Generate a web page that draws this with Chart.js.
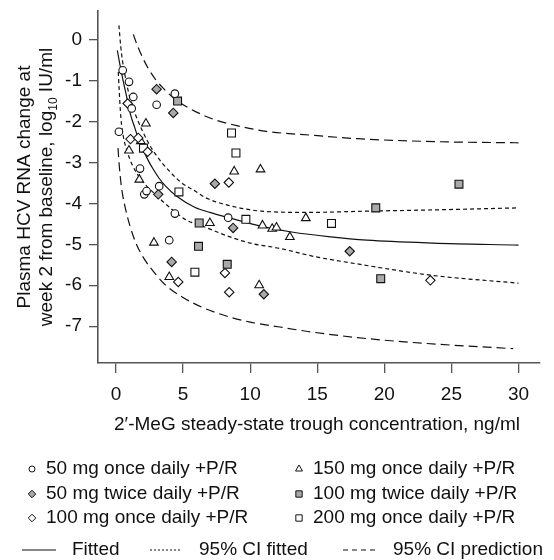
<!DOCTYPE html>
<html>
<head>
<meta charset="utf-8">
<script src="https://cdn.jsdelivr.net/npm/chart.js@4/dist/chart.umd.min.js"></script>
<style>
  html, body { margin: 0; padding: 0; background: #fff; }
</style>
</head>
<body>
<canvas id="chart" width="554" height="560"></canvas>
<script>
// trough concentration (ng/ml), HCV RNA change (log10 IU/ml)
const qd50 = [[0.5,-0.75],[0.97,-1.03],[1.29,-1.4],[1.17,-1.68],[0.22,-2.25],[3.03,-1.59],[4.39,-1.32],
  [1.79,-3.15],[3.22,-3.58],[2.11,-3.78],[2.28,-3.7],[4.39,-4.25],[3.97,-4.9],[8.36,-4.35]];
const bid50 = [[3.03,-1.21],[4.27,-1.79],[7.37,-3.52],[3.15,-3.78],[8.73,-4.6],[4.15,-5.43],[11.02,-6.22],[17.42,-5.17]];
const qd100 = [[0.87,-1.56],[1.08,-2.43],[1.66,-2.4],[2.36,-2.74],[8.41,-3.49],[4.64,-5.92],[8.12,-5.7],[8.44,-6.17],[23.43,-5.88]];
const qd150 = [[2.23,-2.05],[0.97,-2.71],[1.85,-2.48],[1.74,-3.42],[8.81,-3.22],[10.77,-3.17],[7.0,-4.48],[2.83,-4.96],
  [3.97,-5.8],[10.67,-6.0],[10.92,-4.54],[11.64,-4.62],[11.96,-4.59],[14.15,-4.36],[12.96,-4.82]];
const bid100 = [[4.59,-1.5],[6.2,-4.48],[6.15,-5.05],[8.29,-5.49],[19.36,-4.11],[19.73,-5.84],[25.56,-3.53]];
const qd200 = [[8.61,-2.28],[8.94,-2.77],[4.69,-3.72],[9.68,-4.39],[5.88,-5.68],[16.06,-4.49],[2.05,-2.65]];

// curves
const fitted = [[0.1,-0.26],[0.3,-0.62],[0.5,-0.95],[0.7,-1.25],[0.9,-1.55],[1.1,-1.85],[1.4,-2.15],[1.7,-2.45],
  [2.0,-2.68],[2.4,-2.95],[2.8,-3.18],[3.2,-3.38],[3.7,-3.58],[4.5,-3.82],[5.9,-4.1],[7,-4.22],[8.4,-4.35],
  [10.85,-4.56],[13.1,-4.7],[16,-4.82],[18.7,-4.9],[23.6,-4.97],[30,-5.02]];
const ciUpper = [[0.22,0.35],[0.35,-0.15],[0.5,-0.55],[0.75,-1.0],[1.0,-1.38],[1.3,-1.7],[1.66,-2.0],[2.3,-2.45],
  [2.9,-2.78],[4,-3.22],[4.9,-3.5],[5.9,-3.7],[6.6,-3.85],[8.4,-4.05],[10.85,-4.19],[14.3,-4.22],[18.7,-4.19],
  [23.6,-4.16],[30,-4.11]];
const ciLower = [[0.17,-0.79],[0.25,-1.3],[0.33,-1.75],[0.42,-2.09],[0.6,-2.45],[0.85,-2.75],[1.2,-3.05],[1.9,-3.43],
  [3.0,-3.8],[4.0,-4.1],[5.26,-4.41],[6.4,-4.55],[8.5,-4.82],[10,-4.97],[12.2,-5.1],[14.8,-5.3],[18,-5.48],
  [23.6,-5.76],[30,-5.95]];
const predUpper = [[1.29,0.13],[1.6,-0.15],[2.0,-0.45],[2.4,-0.7],[2.9,-0.95],[3.5,-1.18],[4.2,-1.4],[5.26,-1.64],
  [6.4,-1.83],[7.4,-1.96],[9,-2.1],[11.2,-2.24],[14.8,-2.34],[18,-2.42],[20.65,-2.46],[25,-2.5],[30,-2.52]];
const predLower = [[0.15,-2.65],[0.25,-3.1],[0.35,-3.44],[0.5,-3.8],[0.7,-4.12],[1.04,-4.55],[1.5,-4.98],[2.0,-5.3],
  [3.0,-5.75],[3.77,-6.02],[5.0,-6.3],[6.5,-6.55],[8.5,-6.78],[10,-6.9],[12.2,-7.02],[14.3,-7.13],[18,-7.28],
  [23,-7.42],[29.6,-7.55]];

const xTicks = [0, 5, 10, 15, 20, 25, 30];
const yTicks = [0, -1, -2, -3, -4, -5, -6, -7];

const groupLabels = ['50 mg once daily +P/R', '50 mg twice daily +P/R', '100 mg once daily +P/R',
  '150 mg once daily +P/R', '100 mg twice daily +P/R', '200 mg once daily +P/R'];
const lineLabels = ['Fitted', '95% CI fitted', '95% CI prediction'];
const xTitle = '2\u2032-MeG steady-state trough concentration, ng/ml';

const ink = '#111';
const axisColor = '#555';
const grey = '#a9a9a9';
const fontFamily = '"Liberation Sans", Arial, Helvetica, sans-serif';
const fontSize = 19;

const toXY = a => a.map(p => ({ x: p[0], y: p[1] }));

// marker look for each dose group, in the same order as groupLabels
const markers = [
  { data: qd50, style: 'circle', r: 3.8, fill: '#fff' },
  { data: bid50, style: 'rectRot', r: 4.7, fill: grey },
  { data: qd100, style: 'rectRot', r: 4.7, fill: '#fff' },
  { data: qd150, style: 'triangle', r: 5, fill: '#fff' },
  { data: bid100, style: 'rect', r: 5.6, fill: grey },
  { data: qd200, style: 'rect', r: 5.6, fill: '#fff' }
];

const pointSets = markers.map((m, i) => ({
  label: groupLabels[i],
  data: toXY(m.data),
  pointStyle: m.style,
  pointRadius: m.r,
  backgroundColor: m.fill,
  borderColor: ink,
  borderWidth: 1.1,
  order: 0
}));

const dashFit = [4, 3];
const dashPred = [9, 5];
function curve(label, data, dash) {
  return {
    label: label,
    data: toXY(data),
    showLine: true,
    pointRadius: 0,
    borderColor: ink,
    borderWidth: 1.2,
    borderDash: dash,
    cubicInterpolationMode: 'monotone',
    fill: false,
    order: 1
  };
}
const lineSets = [
  curve('Fitted', fitted, []),
  curve('CI fitted upper', ciUpper, dashFit),
  curve('CI fitted lower', ciLower, dashFit),
  curve('Prediction upper', predUpper, dashPred),
  curve('Prediction lower', predLower, dashPred)
];

// no extra room for the end labels: the plot box is placed by hand
function noPad(s) {
  s.paddingTop = 0;
  s.paddingBottom = 0;
  s.paddingLeft = 0;
  s.paddingRight = 0;
}

// titles and the legend are drawn by hand
const annotate = {
  id: 'annotate',
  afterDraw(chart) {
    const ctx = chart.ctx;
    const font = fontSize + 'px ' + fontFamily;
    ctx.save();
    ctx.fillStyle = ink;
    ctx.font = font;

    // x title
    ctx.textAlign = 'center';
    ctx.textBaseline = 'middle';
    ctx.fillText(xTitle, 317, 425);

    // y title, two lines with a subscript
    const cy = (chart.chartArea.top + chart.chartArea.bottom) / 2;
    ctx.save();
    ctx.translate(30, cy);
    ctx.rotate(-Math.PI / 2);
    ctx.textBaseline = 'alphabetic';
    ctx.textAlign = 'center';
    ctx.fillText('Plasma HCV RNA change at', 0, 0);
    ctx.restore();

    ctx.save();
    ctx.translate(52, cy);
    ctx.rotate(-Math.PI / 2);
    ctx.textBaseline = 'alphabetic';
    ctx.textAlign = 'left';
    const a = 'week 2 from baseline, log', s = '10', b = ' IU/ml';
    const subFont = '12px ' + fontFamily;
    const wa = ctx.measureText(a).width;
    const wb = ctx.measureText(b).width;
    ctx.font = subFont;
    const ws = ctx.measureText(s).width;
    let x0 = -(wa + ws + wb) / 2;
    ctx.font = font;
    ctx.fillText(a, x0, 0);
    ctx.font = subFont;
    ctx.fillText(s, x0 + wa, 5);
    ctx.font = font;
    ctx.fillText(b, x0 + wa + ws, 0);
    ctx.restore();

    // legend: dose groups in two columns
    const colSym = [32, 299];
    const colText = [46, 313];
    const rowY = [469, 494, 518];
    ctx.textAlign = 'left';
    ctx.textBaseline = 'middle';
    markers.forEach((m, i) => {
      const col = i < 3 ? 0 : 1;
      const row = i % 3;
      ctx.fillStyle = m.fill;
      ctx.strokeStyle = ink;
      ctx.lineWidth = 1;
      Chart.helpers.drawPoint(ctx, { pointStyle: m.style, radius: m.r * 0.8, rotation: 0, borderWidth: 1 }, colSym[col], rowY[row]);
      ctx.fillStyle = ink;
      ctx.font = font;
      ctx.fillText(groupLabels[i], colText[col], rowY[row]);
    });

    // legend: line types
    const ly = 550;
    const lineKeys = [
      { x0: 22, x1: 56, tx: 72, dash: [] },
      { x0: 150, x1: 181, tx: 199, dash: [2, 2] },
      { x0: 343, x1: 378, tx: 393, dash: [5, 4] }
    ];
    lineKeys.forEach((k, i) => {
      ctx.beginPath();
      ctx.setLineDash(k.dash);
      ctx.strokeStyle = ink;
      ctx.lineWidth = 1.2;
      ctx.moveTo(k.x0, ly);
      ctx.lineTo(k.x1, ly);
      ctx.stroke();
      ctx.setLineDash([]);
      ctx.fillStyle = ink;
      ctx.fillText(lineLabels[i], k.tx, ly);
    });
    ctx.restore();
  }
};

new Chart(document.getElementById('chart'), {
  type: 'scatter',
  data: { datasets: pointSets.concat(lineSets) },
  options: {
    responsive: false,
    animation: false,
    devicePixelRatio: 1,
    layout: { padding: { top: 11, right: 14, left: 0, bottom: 0 } },
    plugins: { legend: { display: false }, tooltip: { enabled: false } },
    scales: {
      x: {
        type: 'linear',
        min: -1.34,
        max: 31.6,
        afterBuildTicks: s => { s.ticks = xTicks.map(v => ({ value: v })); },
        afterFit: s => { s.height = 197; noPad(s); },
        grid: { drawOnChartArea: false, drawTicks: true, tickLength: 10, color: axisColor, lineWidth: 1.3 },
        border: { color: axisColor, width: 1.6 },
        ticks: { color: ink, padding: 10, font: { family: fontFamily, size: fontSize } }
      },
      y: {
        type: 'linear',
        min: -7.9,
        max: 0.7,
        afterBuildTicks: s => { s.ticks = yTicks.map(v => ({ value: v })); },
        afterFit: s => { s.width = 98; noPad(s); },
        grid: { drawOnChartArea: false, drawTicks: true, tickLength: 9, color: axisColor, lineWidth: 1.3 },
        border: { color: axisColor, width: 1.6 },
        ticks: { color: ink, padding: 7, font: { family: fontFamily, size: fontSize } }
      }
    }
  },
  plugins: [annotate]
});
</script>
</body>
</html>
